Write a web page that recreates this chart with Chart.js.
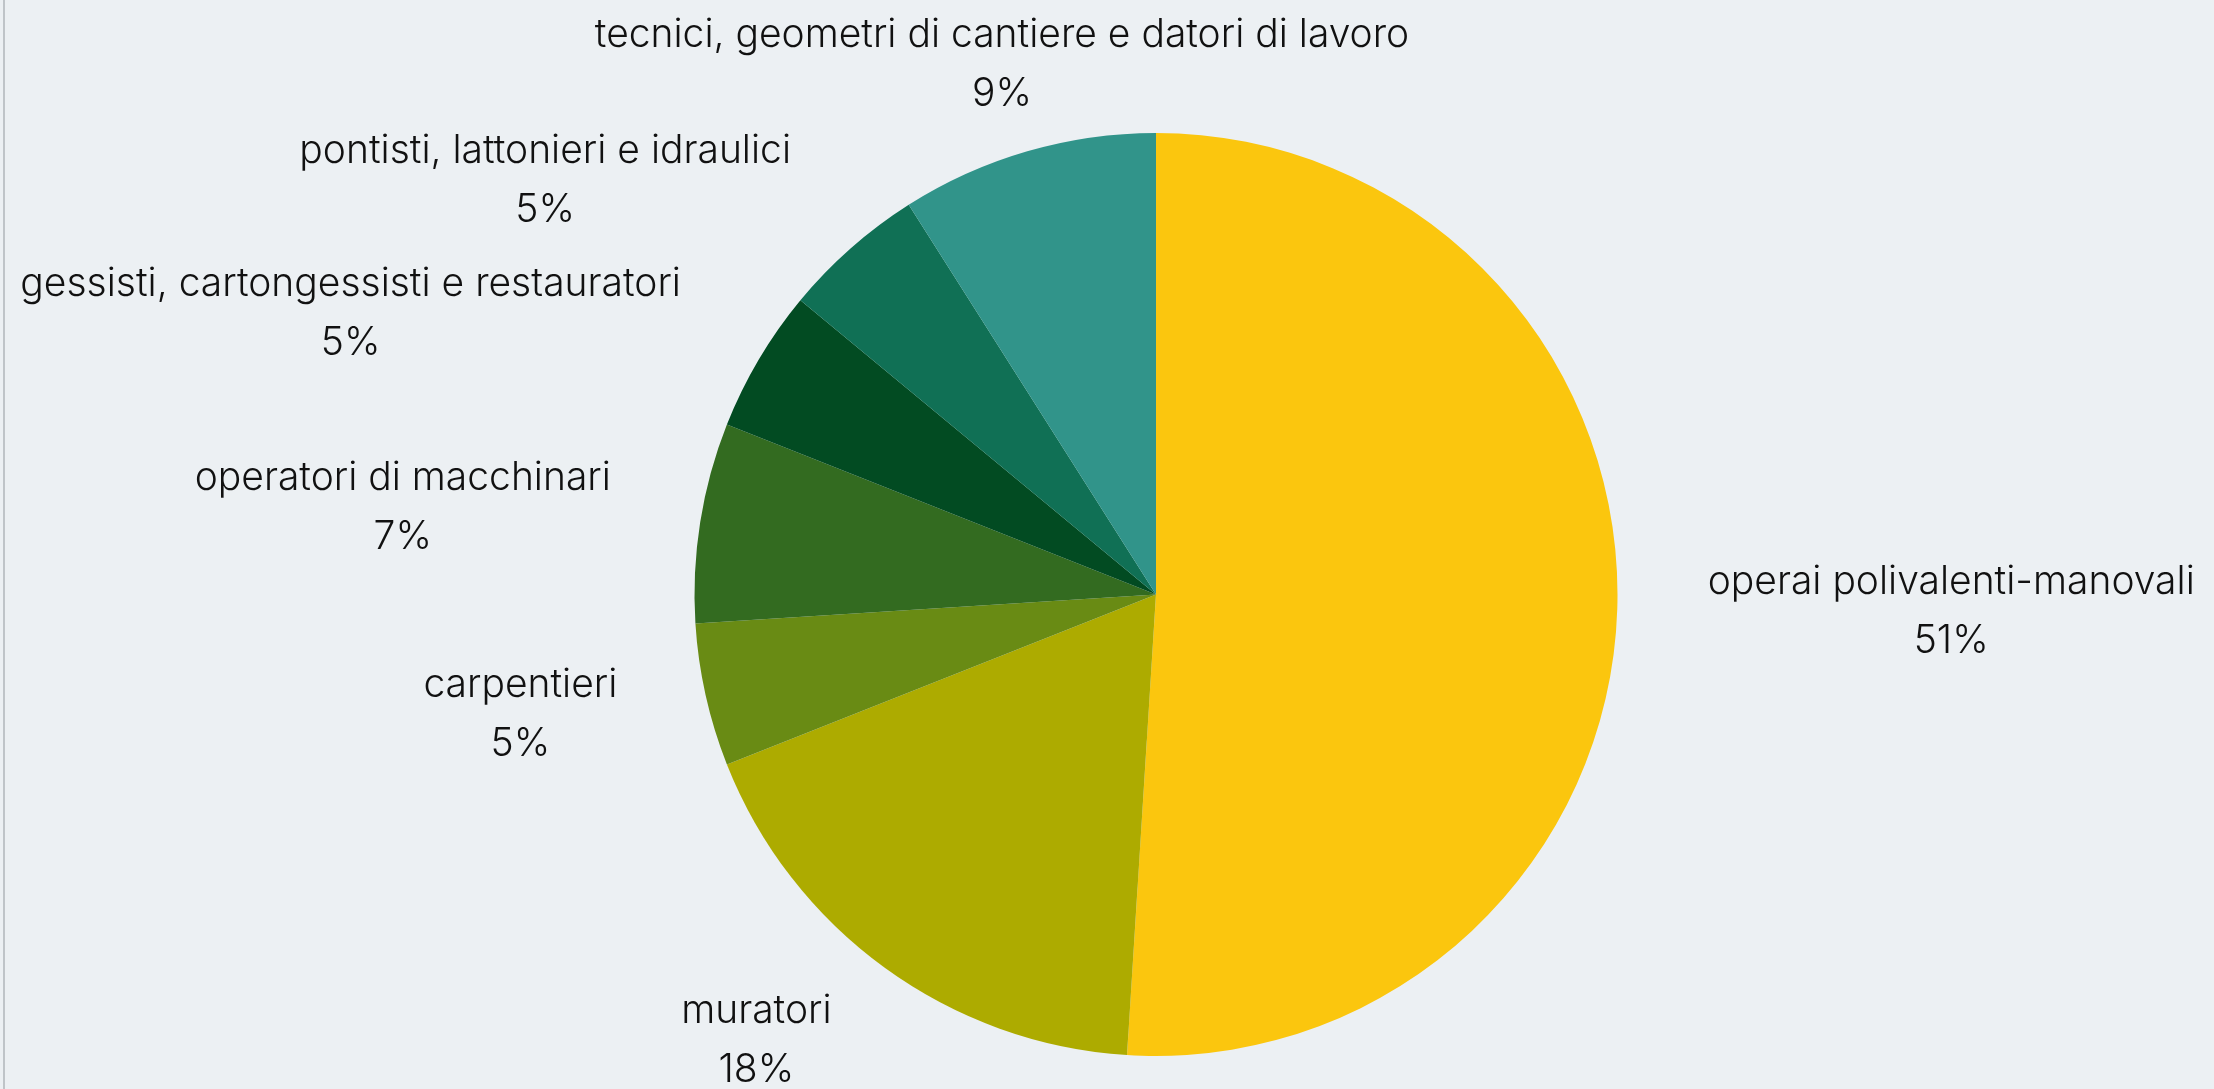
<!DOCTYPE html>
<html lang="it">
<head>
<meta charset="utf-8">
<script src="https://cdn.jsdelivr.net/npm/chart.js@4.4.1/dist/chart.umd.min.js"></script>
<style>
  html, body { margin: 0; padding: 0; background: #ECF0F3; overflow: hidden; }
  #wrap { position: relative; width: 2214px; height: 1089px; }
  #bordo { position: absolute; left: 3px; top: 0; width: 2px; height: 1089px; background: #BFC4C8; }
  canvas { display: block; }
</style>
</head>
<body>
<div id="wrap">
  <canvas id="chart-mestieri" width="2214" height="1089"></canvas>
  <div id="bordo"></div>
</div>
<script>
// Dati (quote per mansione, in senso orario da ore 12)
const categorie = [
  'operai polivalenti-manovali',
  'muratori',
  'carpentieri',
  'operatori di macchinari',
  'gessisti, cartongessisti e restauratori',
  'pontisti, lattonieri e idraulici',
  'tecnici, geometri di cantiere e datori di lavoro'
];
const valori = [51, 18, 5, 7, 5, 5, 9];
const colori = ['#FBC60E', '#ADAB00', '#698B14', '#336B20', '#024B22', '#107055', '#31948A'];

// ── ETICHETTE ESTERNE (nome + percentuale) ──
const etichetteEsterne = {
  id: 'etichetteEsterne',
  afterDatasetsDraw(chart, args, opts) {
    const ctx  = chart.ctx;
    const meta = chart.getDatasetMeta(0);
    const dati = chart.data.datasets[0].data;
    const tot  = dati.reduce((s, v) => s + v, 0);
    ctx.save();
    ctx.font = opts.font;
    ctx.fillStyle = opts.color;
    ctx.textAlign = 'center';
    ctx.textBaseline = 'middle';
    meta.data.forEach((arc, i) => {
      const { x, y, startAngle, endAngle, outerRadius } =
        arc.getProps(['x', 'y', 'startAngle', 'endAngle', 'outerRadius'], true);
      const mid = (startAngle + endAngle) / 2;
      const r   = outerRadius * (1 + opts.gap);
      const ax  = x + Math.cos(mid) * r;
      const ay  = y + Math.sin(mid) * r;
      const righe = [chart.data.labels[i], Math.round(dati[i] / tot * 100) + '%'];
      const w = Math.max(...righe.map(t => ctx.measureText(t).width));
      const c = Math.cos(mid);
      let cx = ax;
      if (Math.abs(c) >= opts.zonaCentro) cx = c > 0 ? ax + w / 2 : ax - w / 2;
      righe.forEach((t, k) => {
        ctx.fillText(t, cx, ay + (k - (righe.length - 1) / 2) * opts.lineHeight);
      });
    });
    ctx.restore();
  }
};

new Chart(document.getElementById('chart-mestieri').getContext('2d'), {
  type: 'pie',
  data: {
    labels: categorie,
    datasets: [{
      data: valori,
      backgroundColor: colori,
      borderWidth: 0,
      hoverOffset: 0,
      offset: 0
    }]
  },
  options: {
    responsive: false,
    animation: false,
    layout: { padding: { top: 133, bottom: 33, left: 200, right: 102 } },
    plugins: {
      legend: { display: false },
      tooltip: { enabled: false },
      etichetteEsterne: {
        font: '300 39px Inter, "Noto Sans", sans-serif',
        color: '#111',
        gap: 0.196,
        zonaCentro: 0.35,
        lineHeight: 59
      }
    }
  },
  plugins: [etichetteEsterne]
});
</script>
</body>
</html>
